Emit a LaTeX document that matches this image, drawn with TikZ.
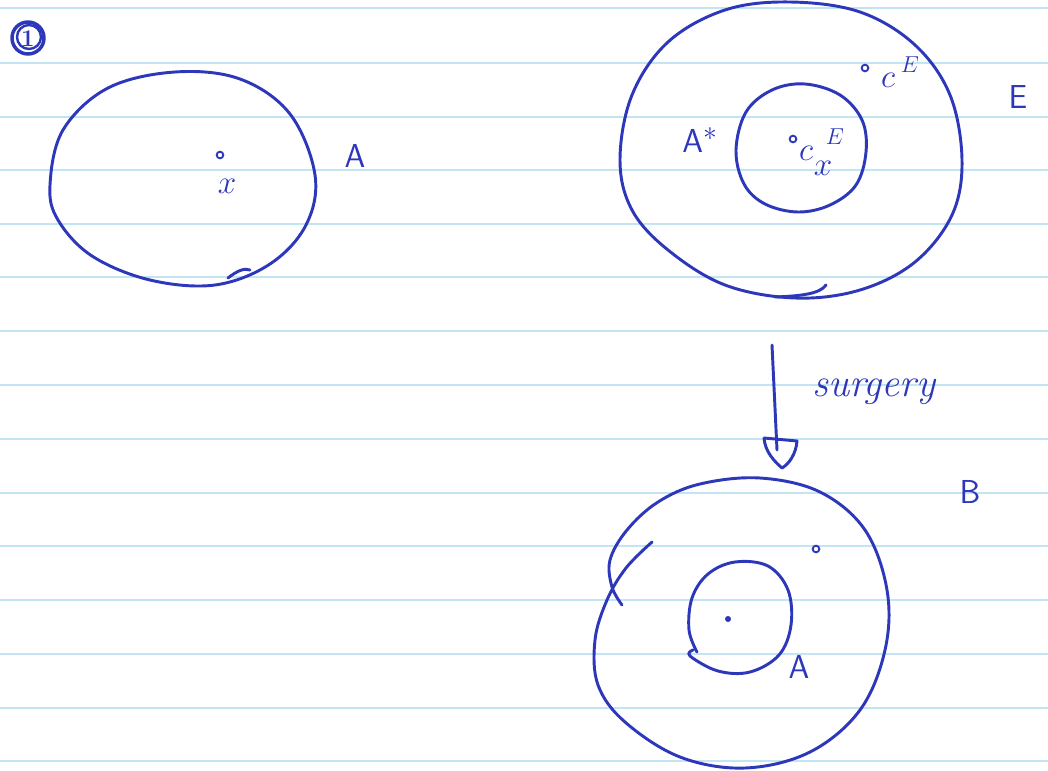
\documentclass[tikz,border=0pt]{standalone}
\usepackage{tikz}
\definecolor{ink}{RGB}{45,55,185}
\definecolor{rule}{RGB}{195,228,242}
\begin{document}
\begin{tikzpicture}[x=0.75pt,y=-0.75pt,
  inkline/.style={draw=ink,line width=2.2pt,line cap=round,line join=round},
  paperline/.style={draw=rule,line width=0.8pt},
  lbl/.style={text=ink,inner sep=0pt,font=\fontsize{30}{34}\selectfont},
  smalllbl/.style={text=ink,inner sep=0pt,font=\fontsize{24}{28}\selectfont},
  tinylbl/.style={text=ink,inner sep=0pt,font=\fontsize{17}{20}\selectfont},
  dotmark/.style={draw=ink,line width=1.4pt,circle,inner sep=0pt,minimum size=5pt}]
\fill[white] (0,0) rectangle (1048,770);
\useasboundingbox (0,0) rectangle (1048,770);
% ruled paper
\foreach \yy in {8,63,117,170,224,277,331,385,439,493,546,600,654,708,761}
  \draw[paperline] (0,\yy) -- (1048,\yy);
% circled 1
\draw[inkline,line width=2.6pt] (28,38) circle (16);
\draw[inkline,line width=1.8pt] (29,37) circle (12);
\node[lbl,font=\bfseries\fontsize{18}{20}\selectfont] (one) at (28,39) {1};
% left region A
\draw[inkline] plot[smooth cycle,tension=0.6] coordinates {(50,185) (63,130) (108,88) (175,72) (240,79) (290,114) (315,175) (306,225) (270,264) (215,285) (150,280) (92,256) (58,220)};
\draw[inkline] (228,278) .. controls (238,270) and (245,268) .. (250,270);
\node[dotmark] (xdot) at (220,155) {};
\node[lbl] (xlab) at (227,186) {$x$};
\node[lbl] (Alab) at (355,156) {$\mathsf{A}$};
% top right: E and A*
\draw[inkline] plot[smooth cycle,tension=0.6] coordinates {(620,160) (632,95) (668,42) (725,10) (790,2) (860,12) (915,45) (950,95) (962,160) (952,215) (915,262) (860,290) (795,298) (725,285) (668,250) (632,210)};
\draw[inkline] (775,297) .. controls (800,296) and (820,294) .. (826,285);
\draw[inkline] plot[smooth cycle,tension=0.6] coordinates {(736,150) (746,112) (772,90) (805,84) (840,95) (862,120) (866,152) (856,185) (830,205) (798,212) (765,204) (744,184)};
\node[lbl] (Astar) at (700,140) {$\mathsf{A}^{*}$};
\node[dotmark] (cdotin) at (793,139) {};
\node[smalllbl] (cin) at (806,153) {$c$};
\node[tinylbl] (Ein) at (835,137) {$E$};
\node[smalllbl] (xin) at (823,168) {$x$};
\node[dotmark] (cdotout) at (865,68) {};
\node[smalllbl] (cout) at (888,80) {$c$};
\node[tinylbl] (Eout) at (910,65) {$E$};
\node[lbl] (Elab) at (1018,97) {$\mathsf{E}$};
% surgery arrow
\coordinate (arrS) at (772,345);
\coordinate (arrT) at (777,450);
\draw[inkline] (arrS) -- (arrT);
\draw[inkline] (764,438) -- (797,441) .. controls (796,454) and (789,464) .. (782,468) .. controls (775,462) and (765,452) .. (764,438);
\node[lbl,font=\itshape\fontsize{30}{34}\selectfont,anchor=west] (surg) at (812,392) {surgery};
\node[lbl] (Blab) at (970,492) {$\mathsf{B}$};
% bottom: B with A inside (open hand-drawn loop with crossing at upper left)
\draw[inkline] plot[smooth,tension=0.6] coordinates {(652,542) (626,568) (607,600) (595,640) (598,685) (625,722) (680,757) (745,768) (810,752) (860,710) (885,650) (887,590) (865,530) (820,492) (760,478) (700,484) (658,502) (627,530) (610,560) (612,587) (622,605)};
\draw[inkline] plot[smooth,tension=0.6] coordinates {(697,652) (689,630) (692,598) (708,574) (735,562) (768,566) (788,590) (791,625) (779,655) (750,672) (718,671) (690,656) (693,650)};
\node[dotmark,minimum size=3pt,fill=ink] (adot) at (728,619) {};
\node[dotmark] (bdot) at (816,549) {};
\node[lbl] (Ain) at (799,667) {$\mathsf{A}$};
\end{tikzpicture}
\end{document}
